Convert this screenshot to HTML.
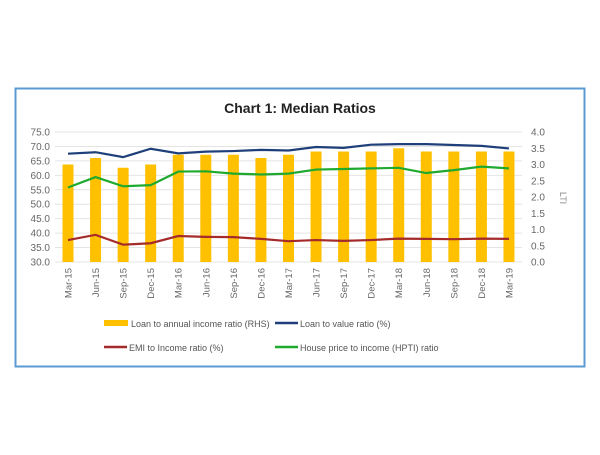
<!DOCTYPE html>
<html><head><style>
body{margin:0;background:#fff;width:600px;height:450px;overflow:hidden}
svg{font-family:"Liberation Sans",sans-serif}
</style></head><body>
<svg id="s" width="600" height="450" xmlns="http://www.w3.org/2000/svg">
<rect x="15.5" y="88.5" width="569" height="278" fill="#fff" stroke="#5b9bd5" stroke-width="2"/>
<text x="300" y="113" text-anchor="middle" font-size="14" font-weight="bold" fill="#222">Chart 1: Median Ratios</text>
<g id="g"></g>
<text x="560" y="198" font-size="9" fill="#888" transform="rotate(90 560 198)" text-anchor="middle">LTI</text>
<g font-size="9" fill="#555">
<rect x="104" y="320" width="24" height="6" fill="#ffc000"/><text x="131" y="327">Loan to annual income ratio (RHS)</text>
<line x1="275" y1="323" x2="298" y2="323" stroke="#1f3f7a" stroke-width="2.5"/><text x="300" y="327">Loan to value ratio (%)</text>
<line x1="104" y1="347" x2="127" y2="347" stroke="#a52a2a" stroke-width="2.5"/><text x="129" y="351">EMI to Income ratio (%)</text>
<line x1="275" y1="347" x2="298" y2="347" stroke="#1faa2f" stroke-width="2.5"/><text x="300" y="351">House price to income (HPTI) ratio</text>
</g>
</svg>
<script>
const g=document.getElementById('g');let h='';
const Y=v=>262-(v-30)*130/45, R=v=>262-v*130/4, X=i=>68+i*27.56;
for(let k=0;k<=9;k++){const v=30+k*5,y=Y(v);h+=`<line x1="55" x2="522" y1="${y}" y2="${y}" stroke="#e4e4e4"/>`;
h+=`<text x="50" y="${y+3.5}" text-anchor="end" font-size="10" fill="#666">${v.toFixed(1)}</text>`;}
for(let k=0;k<=8;k++){const y=R(k*0.5);h+=`<text x="531" y="${y+3.5}" font-size="10" fill="#666">${(k*0.5).toFixed(1)}</text>`;}
const bars=[3.0,3.2,2.9,3.0,3.3,3.3,3.3,3.2,3.3,3.4,3.4,3.4,3.5,3.4,3.4,3.4,3.4];
bars.forEach((b,i)=>h+=`<rect x="${X(i)-5.5}" y="${R(b)}" width="11" height="${262-R(b)}" fill="#ffc000"/>`);
const L=(a,c)=>`<polyline fill="none" stroke="${c}" stroke-width="2.2" points="${a.map((v,i)=>X(i)+','+Y(v)).join(' ')}"/>`;
h+=L([67.5,68,66.3,69.2,67.6,68.2,68.4,68.8,68.6,69.8,69.5,70.6,70.8,70.8,70.5,70.2,69.3],'#1f3f7a');
h+=L([55.8,59.4,56.2,56.6,61.3,61.4,60.6,60.3,60.6,62,62.2,62.4,62.6,60.8,61.8,63,62.4],'#1faa2f');
h+=L([37.6,39.4,36,36.5,39,38.7,38.6,38,37.2,37.6,37.3,37.6,38.1,38,37.9,38.1,38],'#a52a2a');
const lab=['Mar-15','Jun-15','Sep-15','Dec-15','Mar-16','Jun-16','Sep-16','Dec-16','Mar-17','Jun-17','Sep-17','Dec-17','Mar-18','Jun-18','Sep-18','Dec-18','Mar-19'];
lab.forEach((t,i)=>{const x=X(i)+3.5;h+=`<text x="${x}" y="268" font-size="9.5" fill="#666" text-anchor="end" transform="rotate(-90 ${x} 268)">${t}</text>`});
g.innerHTML=h;
</script>
</body></html>
